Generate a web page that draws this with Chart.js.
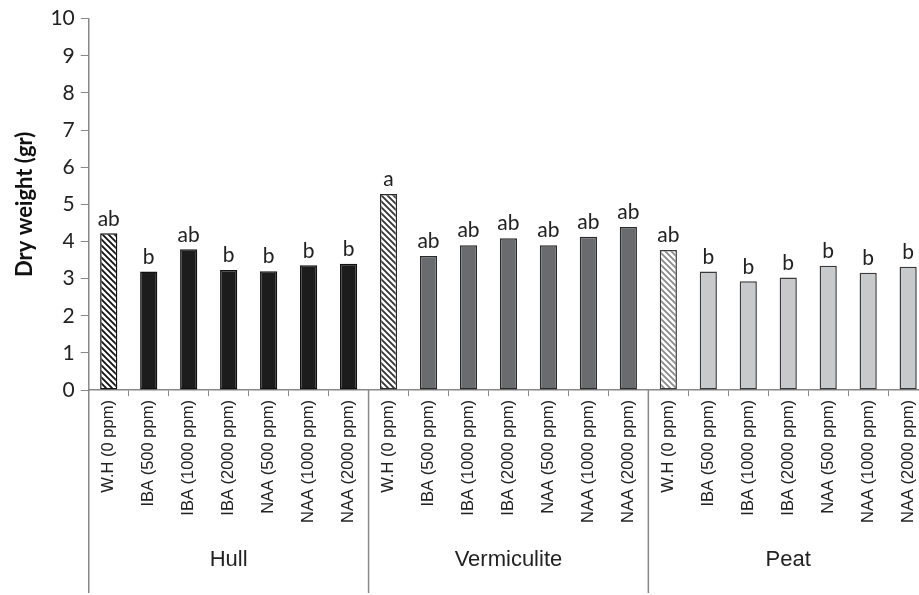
<!DOCTYPE html>
<html>
<head>
<meta charset="utf-8">
<script src="https://cdn.jsdelivr.net/npm/chart.js@4.4.1/dist/chart.umd.min.js"></script>
<style>
    html, body { margin: 0; padding: 0; background: #fff; overflow: hidden; }
    #wrap { position: relative; width: 932px; height: 595px; }
</style>
</head>
<body>
<div id="wrap"><canvas id="barChart"></canvas></div>
<script>
// Data
const groups = ['Hull', 'Vermiculite', 'Peat'];
const treatments = ['W.H (0 ppm)', 'IBA (500 ppm)', 'IBA (1000 ppm)', 'IBA (2000 ppm)',
                    'NAA (500 ppm)', 'NAA (1000 ppm)', 'NAA (2000 ppm)'];
const hullValues = [4.22, 3.19, 3.79, 3.23, 3.20, 3.36, 3.40];
const vermiculiteValues = [5.28, 3.61, 3.90, 4.09, 3.90, 4.13, 4.39];
const peatValues = [3.77, 3.19, 2.93, 3.03, 3.35, 3.16, 3.32];
const hullLetters = ['ab', 'b', 'ab', 'b', 'b', 'b', 'b'];
const vermiculiteLetters = ['a', 'ab', 'ab', 'ab', 'ab', 'ab', 'ab'];
const peatLetters = ['ab', 'b', 'b', 'b', 'b', 'b', 'b'];
const yTicks = [0, 1, 2, 3, 4, 5, 6, 7, 8, 9, 10];

document.addEventListener("DOMContentLoaded", function() {
    const ctx = document.getElementById('barChart').getContext('2d');

    // diagonal hatch for the control (W.H) bars
    function hatch(stripe) {
        const c = document.createElement('canvas');
        c.width = c.height = 6;
        const h = c.getContext('2d');
        h.fillStyle = '#fff';
        h.fillRect(0, 0, 6, 6);
        h.strokeStyle = stripe;
        h.lineWidth = 1.8;
        h.beginPath();
        h.moveTo(0, 0); h.lineTo(6, 6);
        h.moveTo(-1, 5); h.lineTo(1, 7);
        h.moveTo(5, -1); h.lineTo(7, 1);
        h.stroke();
        return ctx.createPattern(c, 'repeat');
    }

    const fills = [
        { hatch: hatch('#111'), solid: '#1c1c1c', border: '#111' },
        { hatch: hatch('#333'), solid: '#6a6b6e', border: '#2a2a2a' },
        { hatch: hatch('#8a8a8a'), solid: '#c8c9cb', border: '#3a3a3a' }
    ];

    const labels = [];
    const values = [];
    const letters = [];
    const bg = [];
    const border = [];
    [hullValues, vermiculiteValues, peatValues].forEach(function(vals, g) {
        const lets = [hullLetters, vermiculiteLetters, peatLetters][g];
        vals.forEach(function(v, i) {
            labels.push(treatments[i]);
            values.push(v);
            letters.push(lets[i]);
            bg.push(i === 0 ? fills[g].hatch : fills[g].solid);
            border.push(fills[g].border);
        });
    });

    // letters above the bars
    const letterPlugin = {
        id: 'letters',
        afterDatasetsDraw(chart) {
            const c = chart.ctx;
            const meta = chart.getDatasetMeta(0);
            c.save();
            c.fillStyle = '#222';
            c.font = '21px Lato';
            c.textAlign = 'center';
            c.textBaseline = 'bottom';
            meta.data.forEach(function(bar, i) {
                c.fillText(letters[i], bar.x, bar.y - 4);
            });
            c.restore();
        }
    };

    // group separators and group names under the axis
    const groupPlugin = {
        id: 'groups',
        afterDraw(chart) {
            const c = chart.ctx;
            const x = chart.scales.x;
            const step = x.getPixelForValue(1) - x.getPixelForValue(0);
            const n = treatments.length;
            c.save();
            c.strokeStyle = '#888';
            c.lineWidth = 1.5;
            for (let g = 0; g <= groups.length; g++) {
                const px = x.getPixelForValue(g * n) - step / 2;
                c.beginPath();
                c.moveTo(px, chart.chartArea.bottom);
                c.lineTo(px, chart.height - 2);
                c.stroke();
            }
            c.fillStyle = '#222';
            c.font = '22px Liberation Sans';
            c.textAlign = 'center';
            c.textBaseline = 'middle';
            groups.forEach(function(name, g) {
                const mid = (x.getPixelForValue(g * n) + x.getPixelForValue(g * n + n - 1)) / 2;
                c.fillText(name, mid, 560);
            });
            c.restore();
        }
    };

    const config = {
        type: 'bar',
        data: {
            labels: labels,
            datasets: [{
                data: values,
                backgroundColor: bg,
                borderColor: border,
                borderWidth: 1.5,
                borderSkipped: false,
                categoryPercentage: 1,
                barPercentage: 0.43
            }]
        },
        options: {
            responsive: true,
            maintainAspectRatio: false,
            animation: false,
            layout: { padding: { top: 12, right: 2, bottom: 68, left: 12 } },
            plugins: {
                legend: { display: false },
                tooltip: { enabled: false }
            },
            scales: {
                x: {
                    offset: true,
                    grid: {
                        offset: true,
                        drawOnChartArea: false,
                        tickLength: 6,
                        color: '#888'
                    },
                    border: { color: '#888', width: 1.5 },
                    ticks: {
                        color: '#222',
                        minRotation: 90,
                        maxRotation: 90,
                        autoSkip: false,
                        padding: 4,
                        font: { family: 'Liberation Sans', size: 16.5 }
                    }
                },
                y: {
                    min: 0,
                    max: 10,
                    afterBuildTicks: function(axis) {
                        axis.ticks = yTicks.map(function(v) { return { value: v }; });
                    },
                    grid: {
                        drawOnChartArea: false,
                        tickLength: 8,
                        color: '#888'
                    },
                    border: { color: '#888', width: 1.5 },
                    ticks: {
                        color: '#222',
                        padding: 6,
                        font: { family: 'Lato', size: 21 }
                    },
                    title: {
                        display: true,
                        text: 'Dry weight (gr)',
                        color: '#111',
                        padding: { top: 0, bottom: 6 },
                        font: { family: 'Lato', size: 22, weight: 'bold' }
                    }
                }
            }
        },
        plugins: [letterPlugin, groupPlugin]
    };

    new Chart(ctx, config);
});
</script>
</body>
</html>
